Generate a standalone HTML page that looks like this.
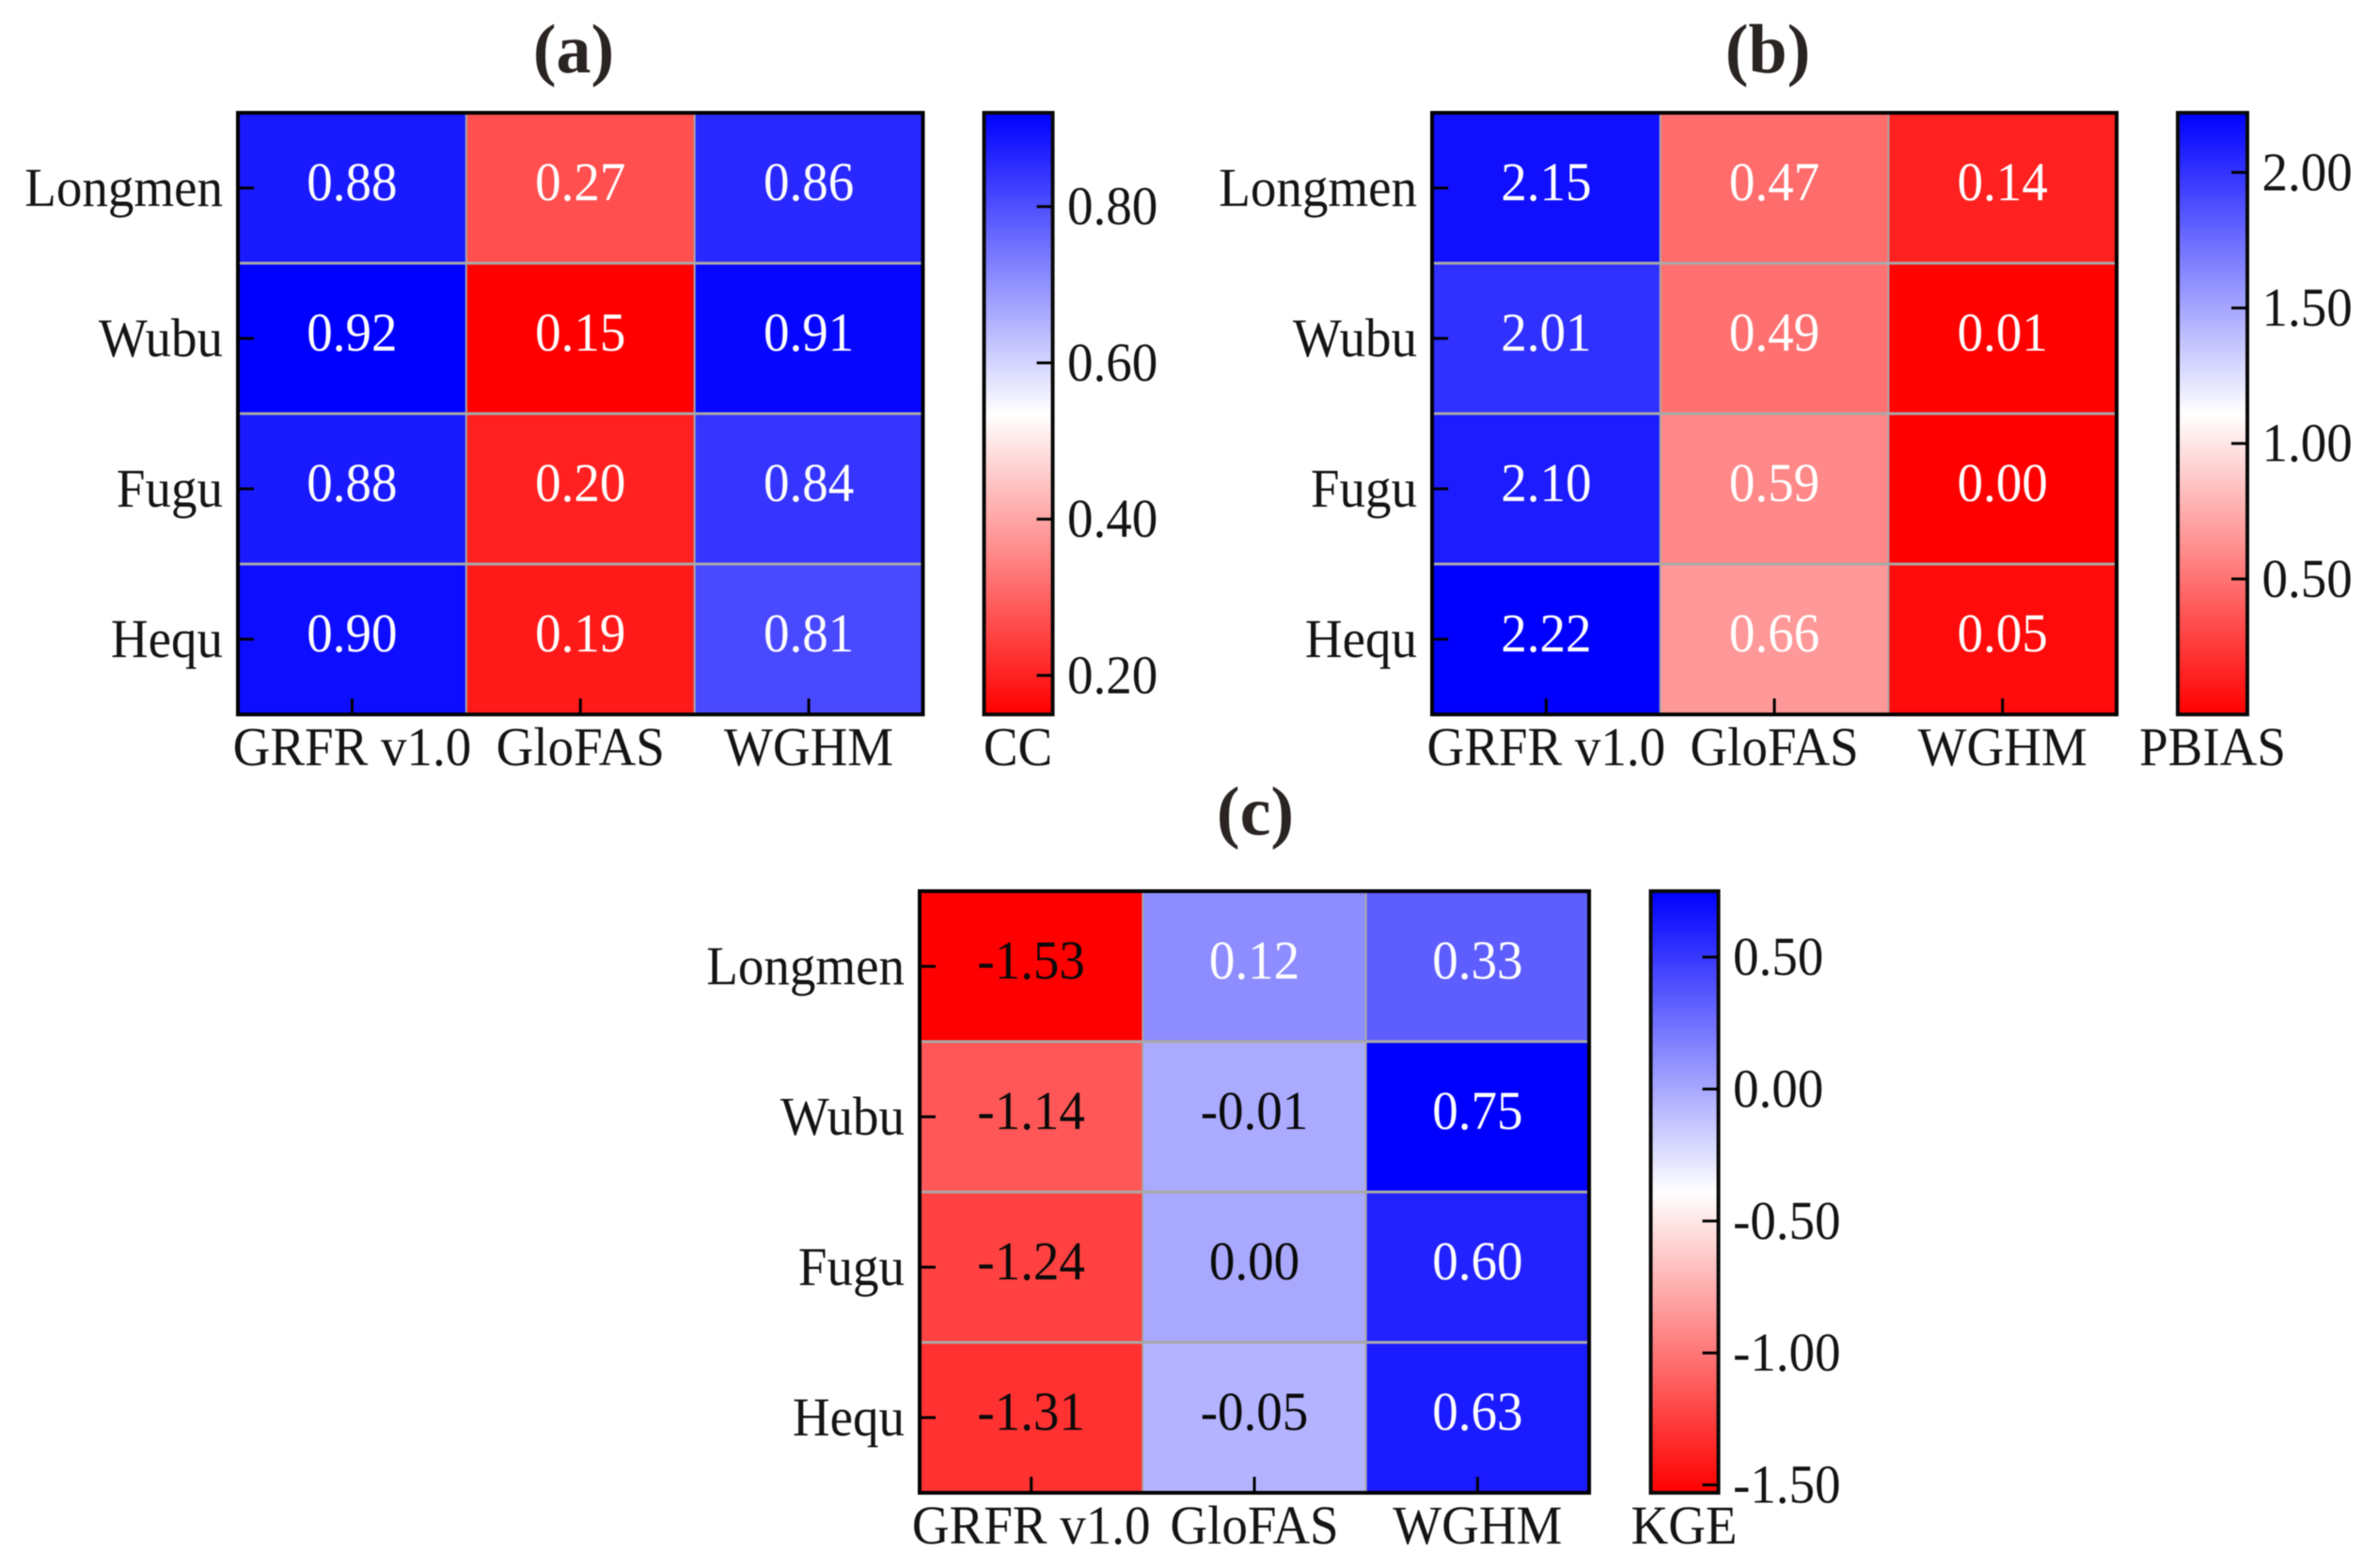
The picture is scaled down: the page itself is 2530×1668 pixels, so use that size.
<!DOCTYPE html>
<html lang="en">
<head>
<meta charset="utf-8">
<title>Heatmaps of CC, PBIAS and KGE</title>
<style>
html,body{margin:0;padding:0;background:#fff;}
svg{display:block;font-family:"Liberation Serif",serif;filter:blur(0.6px);}
</style>
</head>
<body>
<svg id="figure" xmlns="http://www.w3.org/2000/svg" width="2530" height="1668" viewBox="0 0 2530 1668">
  <defs>
    <linearGradient id="bwr" x1="0" y1="1" x2="0" y2="0">
      <stop offset="0" stop-color="#ff0000"/>
      <stop offset="0.5" stop-color="#ffffff"/>
      <stop offset="1" stop-color="#0000ff"/>
    </linearGradient>
  </defs>
  <rect x="0" y="0" width="2530" height="1668" fill="#ffffff"/>
</svg>
<script>
const stations = ["Longmen", "Wubu", "Fugu", "Hequ"];
const products = ["GRFR v1.0", "GloFAS", "WGHM"];

const ccValues = [
  [0.88, 0.27, 0.86],
  [0.92, 0.15, 0.91],
  [0.88, 0.20, 0.84],
  [0.90, 0.19, 0.81]
];
const pbiasValues = [
  [2.15, 0.47, 0.14],
  [2.01, 0.49, 0.01],
  [2.10, 0.59, 0.00],
  [2.22, 0.66, 0.05]
];
const kgeValues = [
  [-1.53, 0.12, 0.33],
  [-1.14, -0.01, 0.75],
  [-1.24, 0.00, 0.60],
  [-1.31, -0.05, 0.63]
];

const ccTicks = [0.80, 0.60, 0.40, 0.20];
const pbiasTicks = [2.00, 1.50, 1.00, 0.50];
const kgeTicks = [0.50, 0.00, -0.50, -1.00, -1.50];

const svg = document.getElementById('figure');
const NS = 'http://www.w3.org/2000/svg';
const INK = '#141414';
const FONT = 55;
const TEXT_STRETCH = 1.05;

function make(tag, attrs, text) {
  const el = document.createElementNS(NS, tag);
  for (const k in attrs) el.setAttribute(k, attrs[k]);
  if (text !== undefined) el.textContent = text;
  svg.appendChild(el);
  return el;
}

// body text in the reference is slightly taller than the font's natural proportion
function stretch(el) {
  const y = parseFloat(el.getAttribute('y'));
  el.setAttribute('transform', 'matrix(1 0 0 ' + TEXT_STRETCH + ' 0 ' + (y * (1 - TEXT_STRETCH)) + ')');
  return el;
}

function mixColor(t) {
  // red -> white -> blue
  const c = Math.max(0, Math.min(1, t));
  let r, g, b;
  if (c < 0.5) {
    r = 255;
    g = b = Math.round(255 * c * 2);
  } else {
    b = 255;
    r = g = Math.round(255 * (1 - c) * 2);
  }
  return 'rgb(' + r + ',' + g + ',' + b + ')';
}

function drawPanel(p) {
  const flat = p.values.reduce((a, r) => a.concat(r), []);
  const vMin = Math.min.apply(null, flat);
  const vMax = Math.max.apply(null, flat);
  const colW = (p.x1 - p.x0) / products.length;
  const rowH = (p.y1 - p.y0) / stations.length;
  const xBand = i => p.x0 + i * colW;
  const yBand = j => p.y0 + j * rowH;
  const norm = v => (v - vMin) / (vMax - vMin);
  const yBar = v => p.y1 - norm(v) * (p.y1 - p.y0);

  const title = make('text', {
    x: p.titleX, y: p.titleY, 'text-anchor': 'middle',
    'font-size': 74, 'font-weight': 'bold', fill: '#2a2422'
  }, p.title);
  
  

  // cells
  p.values.forEach((row, j) => {
    row.forEach((v, i) => {
      const cell = make('rect', {
        x: xBand(i), y: yBand(j), width: colW, height: rowH, fill: mixColor(norm(v))
      });
      
      
    });
  });

  // separators
  for (let i = 1; i < products.length; i++) {
    const sep = make('line', {
      x1: xBand(i), x2: xBand(i), y1: p.y0, y2: p.y1, stroke: '#a8a8a8', 'stroke-width': 2
    });
    
    
  }
  for (let j = 1; j < stations.length; j++) {
    const sep = make('line', {
      x1: p.x0, x2: p.x1, y1: yBand(j), y2: yBand(j), stroke: '#a8a8a8', 'stroke-width': 3
    });
    
    
  }

  // cell value labels
  p.values.forEach((row, j) => {
    row.forEach((v, i) => {
      const dark = p.darkAtOrBelow !== null && v <= p.darkAtOrBelow;
      const t = stretch(make('text', {
        x: xBand(i) + colW / 2, y: yBand(j) + rowH / 2 + 13, 'text-anchor': 'middle',
        'font-size': FONT, fill: dark ? '#0a0a0a' : '#ffffff'
      }, v.toFixed(2)));
      
      
    });
  });

  // frame
  const frame = make('rect', {
    x: p.x0, y: p.y0, width: p.x1 - p.x0, height: p.y1 - p.y0,
    fill: 'none', stroke: '#000000', 'stroke-width': 4
  });
  
  

  // y axis
  stations.forEach((name, j) => {
    const yc = yBand(j) + rowH / 2;
    const tick = make('line', {
      x1: p.x0, x2: p.x0 + 17, y1: yc, y2: yc, stroke: '#000000', 'stroke-width': 3
    });
    
    
    const lab = stretch(make('text', {
      x: p.x0 - 16, y: yc + 19, 'text-anchor': 'end', 'font-size': FONT, fill: INK
    }, name));
    
    
  });

  // x axis
  products.forEach((name, i) => {
    const xc = xBand(i) + colW / 2;
    const tick = make('line', {
      x1: xc, x2: xc, y1: p.y1, y2: p.y1 - 17, stroke: '#000000', 'stroke-width': 3
    });
    
    
    const lab = stretch(make('text', {
      x: xc, y: p.y1 + 54, 'text-anchor': 'middle', 'font-size': FONT, fill: INK
    }, name));
    
    
  });

  // colorbar
  const bar = make('rect', {
    x: p.cb0, y: p.y0, width: p.cb1 - p.cb0, height: p.y1 - p.y0,
    fill: 'url(#bwr)', stroke: '#0a0a0a', 'stroke-width': 4
  });
  
  

  p.ticks.forEach(v => {
    const y = yBar(v);
    const tick = make('line', {
      x1: p.cb1, x2: p.cb1 - 17, y1: y, y2: y, stroke: '#000000', 'stroke-width': 3
    });
    
    
    const lab = stretch(make('text', {
      x: p.cb1 + 15.5, y: y + 19, 'text-anchor': 'start', 'font-size': FONT, fill: INK
    }, v.toFixed(2)));
    
    
  });

  const cbTitle = stretch(make('text', {
    x: p.cbTitleX, y: p.y1 + 54, 'text-anchor': 'middle', 'font-size': FONT, fill: INK
  }, p.cbTitle));
  
  
}

drawPanel({
  title: '(a)', titleX: 610, titleY: 77,
  values: ccValues, ticks: ccTicks, cbTitle: 'CC', cbTitleX: 1082.5,
  x0: 253, x1: 981.5, y0: 120, y1: 760, cb0: 1046.5, cb1: 1119.5, darkAtOrBelow: null
});
drawPanel({
  title: '(b)', titleX: 1880, titleY: 77,
  values: pbiasValues, ticks: pbiasTicks, cbTitle: 'PBIAS', cbTitleX: 2353,
  x0: 1523, x1: 2251, y0: 120, y1: 760, cb0: 2316, cb1: 2390, darkAtOrBelow: null
});
drawPanel({
  title: '(c)', titleX: 1335, titleY: 888,
  values: kgeValues, ticks: kgeTicks, cbTitle: 'KGE', cbTitleX: 1791,
  x0: 978, x1: 1690, y0: 948, y1: 1588, cb0: 1755.5, cb1: 1827.5, darkAtOrBelow: 0
});
</script>
</body>
</html>
